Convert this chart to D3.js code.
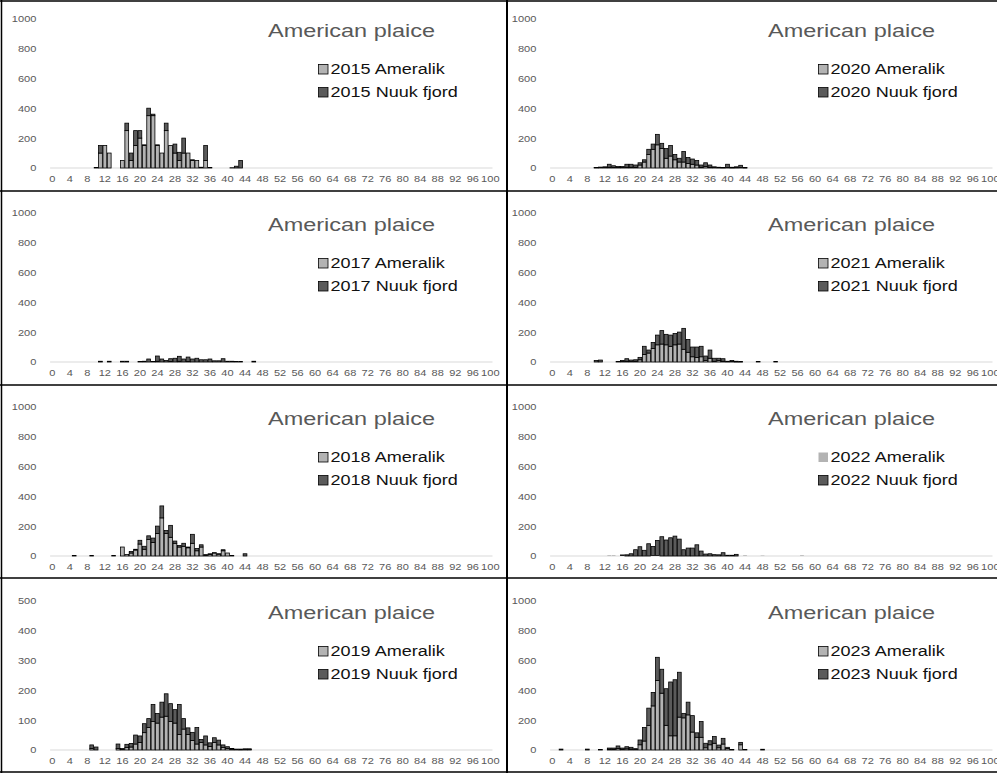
<!DOCTYPE html>
<html>
<head>
<meta charset="utf-8">
<script src="https://cdn.jsdelivr.net/npm/d3@7"></script>
<style>
  body { margin: 0; background: #fff; }
  text { font-family: "Liberation Sans", Arial, sans-serif; }
</style>
</head>
<body>
<div id="canvas"></div>
<script>
// length classes (cm) on the x axis, labels every 4 cm
var lengths = d3.range(0, 101);
var tickLabels = d3.range(0, 101, 4);
var yTicks1000 = [0, 200, 400, 600, 800, 1000];
var yTicks500 = [0, 100, 200, 300, 400, 500];

// counts per cm, the first value belongs to startXXXX cm
var start2015 = 10;
var ameralik2015 = [3, 100, 150, 100, 0, 0, 50, 250, 50, 150, 200, 150, 350, 350, 150, 100, 250, 150, 100, 50, 100, 100, 50, 50, 5, 50, 3, 0, 0, 0, 0, 2, 0, 0];
var nuuk2015     = [0, 50, 0, 0, 0, 0, 0, 50, 50, 100, 50, 5, 50, 10, 5, 0, 50, 0, 60, 55, 100, 0, 5, 0, 0, 100, 0, 0, 0, 0, 0, 0, 12, 50];

var start2017 = 11;
var ameralik2017 = [0, 0, 0, 0, 0, 0, 0, 0, 0, 0, 0, 0, 0, 5, 0, 0, 3, 0, 5, 0, 3, 0, 0, 0, 0, 0, 0, 0, 0, 0, 0, 0, 0, 0, 0, 0];
var nuuk2017     = [5, 0, 5, 0, 0, 5, 5, 0, 0, 3, 5, 20, 3, 35, 20, 10, 19, 25, 33, 20, 30, 20, 25, 15, 15, 20, 8, 8, 22, 5, 5, 3, 3, 0, 0, 5];

var start2018 = 5;
var ameralik2018 = [3, 0, 0, 0, 3, 0, 0, 0, 0, 3, 0, 60, 10, 20, 40, 80, 45, 110, 90, 150, 255, 150, 125, 85, 60, 65, 55, 85, 35, 60, 5, 10, 20, 12, 35, 20, 3, 0, 0, 0];
var nuuk2018     = [0, 0, 0, 0, 0, 0, 0, 0, 0, 0, 0, 0, 0, 10, 5, 25, 20, 25, 30, 50, 80, 20, 80, 15, 10, 20, 5, 60, 15, 15, 4, 5, 2, 3, 7, 0, 0, 0, 0, 15];

var start2019 = 9;
var ameralik2019 = [5, 0, 0, 0, 0, 0, 5, 2, 8, 10, 20, 25, 58, 75, 95, 90, 110, 113, 95, 90, 52, 70, 52, 32, 20, 25, 17, 12, 25, 17, 8, 5, 3, 2, 1, 2, 2];
var nuuk2019     = [12, 10, 0, 0, 0, 0, 15, 3, 11, 12, 30, 22, 30, 30, 57, 32, 50, 75, 60, 45, 100, 35, 22, 27, 55, 10, 30, 12, 16, 16, 9, 6, 2, 1, 2, 2, 2];

var start2020 = 10;
var ameralik2020 = [2, 3, 3, 5, 3, 3, 3, 5, 5, 5, 20, 40, 90, 125, 155, 130, 65, 80, 55, 40, 40, 30, 25, 20, 5, 10, 5, 3, 2, 1, 3, 1, 2, 3, 1];
var nuuk2020     = [2, 3, 5, 20, 12, 7, 7, 20, 20, 15, 15, 15, 35, 35, 70, 35, 65, 70, 35, 25, 70, 40, 35, 30, 15, 25, 15, 5, 3, 2, 22, 4, 6, 15, 2];

var start2021 = 10;
var ameralik2021 = [0, 0, 0, 0, 0, 0, 3, 5, 3, 5, 15, 50, 60, 90, 115, 120, 115, 105, 115, 120, 85, 65, 35, 30, 35, 10, 25, 5, 10, 5, 2, 3, 1, 1, 0, 0, 0, 0, 0, 0, 0, 0];
var nuuk2021     = [10, 13, 0, 0, 0, 3, 7, 17, 10, 10, 16, 55, 20, 40, 65, 90, 70, 75, 75, 80, 140, 85, 65, 70, 70, 30, 55, 20, 15, 17, 3, 7, 4, 2, 0, 0, 0, 3, 0, 0, 0, 3];

var start2022 = 13;
var ameralik2022 = [5, 5, 0, 3, 0, 0, 0, 0, 0, 0, 4, 4, 0, 0, 0, 0, 0, 0, 0, 0, 0, 0, 0, 0, 0, 0, 0, 0, 0, 0, 0, 5, 0, 0, 0, 3, 0, 0, 0, 0, 0, 0, 0, 0, 5];
var nuuk2022     = [0, 0, 0, 4, 8, 15, 42, 62, 38, 82, 60, 100, 129, 107, 122, 133, 113, 42, 53, 53, 75, 33, 13, 15, 9, 8, 22, 5, 5, 11, 0, 0, 0, 0, 0, 0, 0, 0, 0, 0, 0, 0, 0, 0, 0];

var start2023 = 2;
var ameralik2023 = [0, 0, 0, 0, 0, 0, 0, 0, 0, 3, 0, 5, 5, 10, 5, 8, 6, 4, 35, 60, 165, 295, 465, 380, 165, 95, 95, 220, 215, 235, 120, 85, 85, 15, 35, 45, 15, 40, 10, 2, 0, 35, 3, 0, 0, 0, 0];
var nuuk2023     = [6, 0, 0, 0, 0, 0, 6, 0, 0, 0, 0, 8, 8, 17, 8, 14, 12, 5, 32, 90, 115, 90, 155, 160, 245, 360, 375, 300, 30, 85, 110, 30, 105, 30, 27, 45, 18, 38, 8, 1, 0, 16, 0, 0, 0, 0, 5];

var colors = { a: '#b3b3b3', n: '#5b5b5b' };

// table of panels: column, row in the grid
var panels = [
  { year: 2015, start: start2015, a: ameralik2015, n: nuuk2015, ticks: yTicks1000, col: 0, row: 0 },
  { year: 2017, start: start2017, a: ameralik2017, n: nuuk2017, ticks: yTicks1000, col: 0, row: 1 },
  { year: 2018, start: start2018, a: ameralik2018, n: nuuk2018, ticks: yTicks1000, col: 0, row: 2 },
  { year: 2019, start: start2019, a: ameralik2019, n: nuuk2019, ticks: yTicks500, col: 0, row: 3 },
  { year: 2020, start: start2020, a: ameralik2020, n: nuuk2020, ticks: yTicks1000, col: 1, row: 0 },
  { year: 2021, start: start2021, a: ameralik2021, n: nuuk2021, ticks: yTicks1000, col: 1, row: 1 },
  { year: 2022, start: start2022, a: ameralik2022, n: nuuk2022, ticks: yTicks1000, col: 1, row: 2, noEdgeA: true },
  { year: 2023, start: start2023, a: ameralik2023, n: nuuk2023, ticks: yTicks1000, col: 1, row: 3 }
];

var colX = [0, 500];
var rowY = [0, 194, 388, 582];
var sx = 1.2; // the charts are a bit wide, text is stretched the same way

var svg = d3.select('#canvas').append('svg')
  .attr('width', 997)
  .attr('height', 773);

var x = d3.scaleBand().domain(lengths)
  .range([50.1, 492.5])
  .paddingInner(0.14).paddingOuter(0.07);

var stack = d3.stack().keys(['a', 'n']);

var drawPanel = function(p) {
  var g = svg.append('g')
    .attr('transform', 'translate(' + colX[p.col] + ',' + rowY[p.row] + ')');

  var y = d3.scaleLinear().domain([0, p.ticks[p.ticks.length - 1]]).range([168, 18.5]);

  // rows for the stack
  var rows = p.a.map(function(v, i) {
    return { len: p.start + i, a: v, n: p.n[i] };
  });
  var series = stack(rows);

  // base line
  g.append('line')
    .attr('x1', x.range()[0]).attr('x2', x.range()[1])
    .attr('y1', y(0)).attr('y2', y(0))
    .attr('stroke', '#d9d9d9').attr('stroke-width', 1);

  g.selectAll('g.series').data(series)
    .enter().append('g')
    .attr('class', 'series')
    .attr('fill', function (s) { return colors[s.key]; })
    .attr('stroke', function (s) { return (s.key === 'a' && p.noEdgeA) ? 'none' : '#000'; })
    .attr('stroke-width', 0.8)
    .selectAll('rect')
    .data(function (s) { return s.filter(function (d) { return d[1] - d[0] > 0; }); })
    .enter().append('rect')
    .attr('x', function (d) { return x(d.data.len); })
    .attr('width', x.bandwidth())
    .attr('y', function (d) { return y(d[1]); })
    .attr('height', function (d) { return y(d[0]) - y(d[1]); });

  // x axis labels
  var xa = g.append('g')
    .attr('transform', 'translate(0,' + (y(0) + 4) + ')')
    .call(d3.axisBottom(x).tickValues(tickLabels).tickSize(0).tickPadding(3));
  xa.select('.domain').remove();
  xa.selectAll('text')
    .attr('fill', '#595959')
    .attr('font-size', 9.2)
    .attr('transform', 'scale(' + sx + ',1)');

  // y axis labels
  var ya = g.append('g')
    .attr('transform', 'translate(40,0)')
    .call(d3.axisLeft(y).tickValues(p.ticks).tickFormat(d3.format('d')).tickSize(0).tickPadding(3));
  ya.select('.domain').remove();
  ya.selectAll('text')
    .attr('fill', '#595959')
    .attr('font-size', 9.2)
    .attr('transform', 'scale(' + sx + ',1)');

  // title
  g.append('text')
    .attr('transform', 'translate(268,36.7) scale(1.27,1)')
    .attr('fill', '#595959')
    .attr('font-size', 18.5)
    .text('American plaice');

  // legend
  var leg = [
    { key: 'a', label: p.year + ' Ameralik' },
    { key: 'n', label: p.year + ' Nuuk fjord' }
  ];
  var lg = g.selectAll('g.leg').data(leg)
    .enter().append('g')
    .attr('class', 'leg')
    .attr('transform', function (d, i) { return 'translate(318.5,' + (64.5 + i * 23) + ')'; });
  lg.append('rect')
    .attr('width', 9.5).attr('height', 9.5)
    .attr('fill', function (d) { return colors[d.key]; })
    .attr('stroke', function (d) { return (d.key === 'a' && p.noEdgeA) ? 'none' : '#000'; })
    .attr('stroke-width', 0.8);
  lg.append('text')
    .attr('transform', 'translate(12,9.6) scale(1.22,1)')
    .attr('fill', '#111')
    .attr('font-size', 14.8)
    .text(function (d) { return d.label; });
}; // end of drawPanel

panels.forEach(drawPanel);

// table grid round the charts
var grid = svg.append('g').attr('stroke', '#000');
grid.append('line').attr('x1', 507).attr('x2', 507).attr('y1', 0).attr('y2', 773).attr('stroke-width', 2);
[1, 191, 385, 578, 772].forEach(function (yy) {
  grid.append('line').attr('x1', 0).attr('x2', 997).attr('y1', yy).attr('y2', yy).attr('stroke-width', 1.5);
});
grid.append('line').attr('x1', 1.5).attr('x2', 1.5).attr('y1', 0).attr('y2', 773).attr('stroke-width', 1.5);
</script>
</body>
</html>
